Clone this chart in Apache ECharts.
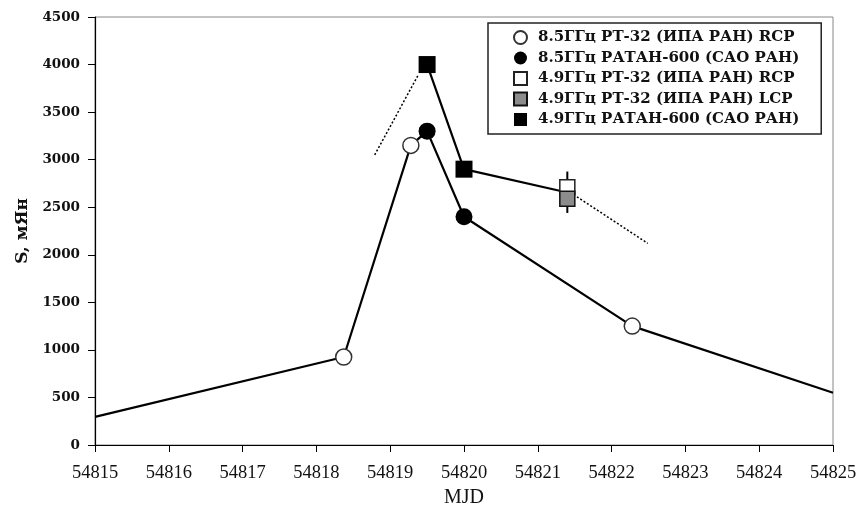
<!DOCTYPE html>
<html>
<head>
<meta charset="utf-8">
<script src="https://cdn.jsdelivr.net/npm/echarts@6/dist/echarts.min.js"></script>
<style>html,body{margin:0;padding:0;background:#fff}#c{width:857px;height:511px}</style>
</head>
<body>
<div id="c"></div>
<script>
// ---- data ----
const seriesNames = [
  '8.5ГГц РТ-32 (ИПА РАН) RCP',
  '8.5ГГц РАТАН-600 (САО РАН)',
  '4.9ГГц РТ-32 (ИПА РАН) RCP',
  '4.9ГГц РТ-32 (ИПА РАН) LCP',
  '4.9ГГц РАТАН-600 (САО РАН)'
];
// 8.5 GHz RT-32 RCP (open circles)
const rt32_85_mjd  = [54818.37, 54819.28, 54822.28];
const rt32_85_flux = [925, 3150, 1250];
// 8.5 GHz RATAN-600 (filled circles)
const ratan_85_mjd  = [54819.5, 54820.0];
const ratan_85_flux = [3300, 2400];
// 4.9 GHz RT-32 RCP (open square) with error
const rt32_49r_mjd  = [54821.4];
const rt32_49r_flux = [2710];
const rt32_49r_err  = [165];
// 4.9 GHz RT-32 LCP (grey square) with error
const rt32_49l_mjd  = [54821.4];
const rt32_49l_flux = [2590];
const rt32_49l_err  = [150];
// 4.9 GHz RATAN-600 (filled squares)
const ratan_49_mjd  = [54819.5, 54820.0];
const ratan_49_flux = [4000, 2900];
// connecting curve at 8.5 GHz (continues beyond axes)
const curve85_mjd  = [54815, 54818.37, 54819.28, 54819.5, 54820.0, 54822.28, 54825];
const curve85_flux = [295, 925, 3150, 3300, 2400, 1250, 550];
// connecting curve at 4.9 GHz
const curve49_mjd  = [54819.5, 54820.0, 54821.4];
const curve49_flux = [4000, 2900, 2655];
// dotted extrapolations
const dot1_mjd  = [54818.79, 54819.38];
const dot1_flux = [3050, 3890];
const dot2_mjd  = [54821.53, 54822.49];
const dot2_flux = [2610, 2120];
// axes
const xMin = 54815, xMax = 54825, xStep = 1;
const yMin = 0, yMax = 4500, yStep = 500;

const zip = (a, b) => a.map((v, i) => [v, b[i]]);
const errData = (x, y, e) => x.map((v, i) => [v, y[i] + e[i], y[i] - e[i]]);

const serifBold = '"DejaVu Serif", serif';
const chart = echarts.init(document.getElementById('c'), null, {renderer: 'canvas'});

const errBar = {
  type: 'custom',
  silent: true,
  z: 3,
  renderItem: function (params, api) {
    const p1 = api.coord([api.value(0), api.value(1)]);
    const p2 = api.coord([api.value(0), api.value(2)]);
    return {type: 'line', shape: {x1: p1[0], y1: p1[1], x2: p2[0], y2: p2[1]},
            style: {stroke: '#000', lineWidth: 2}};
  }
};

chart.setOption({
  animation: false,
  backgroundColor: '#fff',
  grid: {left: 95, right: 24, top: 17, bottom: 66, show: true, borderColor: '#888', borderWidth: 1,
         outerBoundsMode: 'none', containLabel: false},
  legend: {
    orient: 'vertical',
    left: 488, top: 23,
    padding: [7, 22, 7, 25],
    itemWidth: 13, itemHeight: 13, itemGap: 5.5,
    borderColor: '#222', borderWidth: 1.5,
    backgroundColor: '#fff',
    data: seriesNames,
    textStyle: {fontFamily: serifBold, fontWeight: 'bold', fontSize: 15, color: '#111', padding: [0, 0, 0, 6]}
  },
  xAxis: {
    type: 'value', min: xMin, max: xMax, interval: xStep,
    name: 'MJD', nameLocation: 'middle', nameGap: 43,
    nameTextStyle: {fontFamily: '"Liberation Serif", serif', fontSize: 20, color: '#111'},
    axisLine: {lineStyle: {color: '#000', width: 1.2}},
    axisTick: {inside: false, length: 7, lineStyle: {color: '#000', width: 1}},
    axisLabel: {margin: 19, fontFamily: '"Liberation Serif", serif', fontSize: 18.5, color: '#111',
                formatter: v => String(v)},
    splitLine: {show: false}
  },
  yAxis: {
    type: 'value', min: yMin, max: yMax, interval: yStep,
    name: 'S, мЯн', nameLocation: 'middle', nameGap: 56, nameRotate: 90,
    nameTextStyle: {fontFamily: serifBold, fontWeight: 'bold', fontSize: 17, color: '#111'},
    axisLine: {show: true, lineStyle: {color: '#000', width: 1.2}},
    axisTick: {show: true, inside: false, length: 7, lineStyle: {color: '#000', width: 1}},
    axisLabel: {margin: 15, fontFamily: serifBold, fontWeight: 'bold', fontSize: 13.5, color: '#111',
                formatter: v => String(v)},
    splitLine: {show: false}
  },
  series: [
    {type: 'line', data: zip(curve85_mjd, curve85_flux), symbol: 'none', z: 2,
     lineStyle: {color: '#000', width: 2.2}, silent: true},
    {type: 'line', data: zip(curve49_mjd, curve49_flux), symbol: 'none', z: 2,
     lineStyle: {color: '#000', width: 2.2}, silent: true},
    {type: 'line', data: zip(dot1_mjd, dot1_flux), symbol: 'none', z: 2,
     lineStyle: {color: '#000', width: 1.5, type: [2, 2]}, silent: true},
    {type: 'line', data: zip(dot2_mjd, dot2_flux), symbol: 'none', z: 2,
     lineStyle: {color: '#000', width: 1.5, type: [2, 2]}, silent: true},
    Object.assign({}, errBar, {data: errData(rt32_49r_mjd, rt32_49r_flux, rt32_49r_err)}),
    Object.assign({}, errBar, {data: errData(rt32_49l_mjd, rt32_49l_flux, rt32_49l_err)}),
    {name: seriesNames[0], type: 'scatter', data: zip(rt32_85_mjd, rt32_85_flux), z: 4,
     symbol: 'circle', symbolSize: 16,
     itemStyle: {color: '#fff', borderColor: '#333', borderWidth: 1.5, opacity: 1}},
    {name: seriesNames[1], type: 'scatter', data: zip(ratan_85_mjd, ratan_85_flux), z: 5,
     symbol: 'circle', symbolSize: 17,
     itemStyle: {color: '#000', borderColor: '#000', borderWidth: 0, opacity: 1}},
    {name: seriesNames[2], type: 'scatter', data: zip(rt32_49r_mjd, rt32_49r_flux), z: 4,
     symbol: 'rect', symbolSize: 15,
     itemStyle: {color: '#fff', borderColor: '#222', borderWidth: 1.5, opacity: 1}},
    {name: seriesNames[3], type: 'scatter', data: zip(rt32_49l_mjd, rt32_49l_flux), z: 5,
     symbol: 'rect', symbolSize: 15,
     itemStyle: {color: '#8c8c8c', borderColor: '#111', borderWidth: 1.5, opacity: 1}},
    {name: seriesNames[4], type: 'scatter', data: zip(ratan_49_mjd, ratan_49_flux), z: 5,
     symbol: 'rect', symbolSize: 17,
     itemStyle: {color: '#000', borderColor: '#000', borderWidth: 0, opacity: 1}}
  ]
});
</script>
</body>
</html>
